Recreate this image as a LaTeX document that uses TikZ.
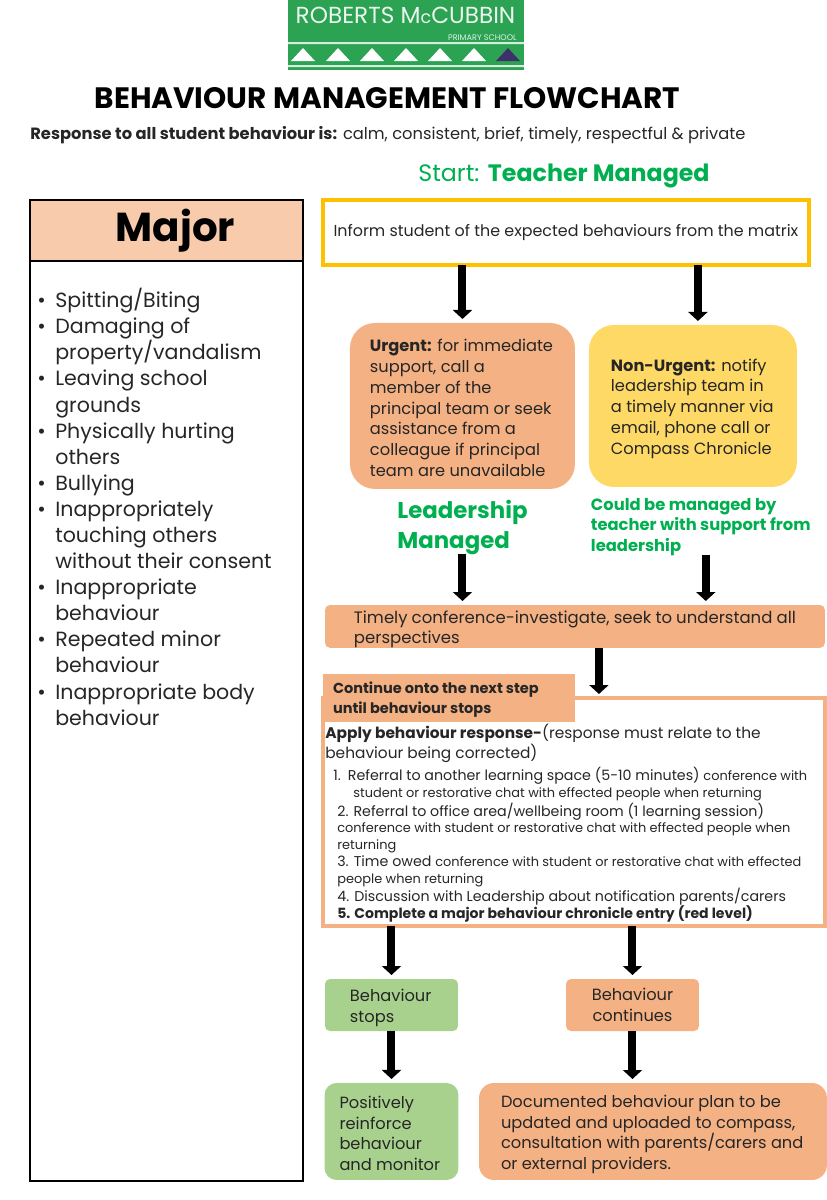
\documentclass[tikz,border=0pt]{standalone}
\usepackage{fontspec}
\setmainfont{Poppins}
\usetikzlibrary{arrows.meta,positioning}
\definecolor{rmGreen}{HTML}{2BA353}
\definecolor{rmText}{HTML}{00B050}
\definecolor{rmPeach}{HTML}{F7CBAC}
\definecolor{rmOrange}{HTML}{F4B183}
\definecolor{rmGold}{HTML}{FFC000}
\definecolor{rmYellow}{HTML}{FFD966}
\definecolor{rmLeaf}{HTML}{A9D18E}
\definecolor{rmInk}{HTML}{262626}
\definecolor{rmPurple}{HTML}{3F2F6B}
\newcommand{\fsz}[2]{\fontsize{#1}{#2}\selectfont}
\newcommand{\smalltxt}{\fsz{7.35}{9.53}}
\newcommand{\itemrow}{\makebox[0.36cm][l]{\textbullet}}
\tikzset{
  panel/.style={draw=black, line width=0.03cm, outer sep=0pt, inner sep=0pt},
  softbox/.style={rounded corners=0.1cm, outer sep=0pt, inner sep=0pt, text=rmInk, align=flush left, font=\fsz{9.25}{11.8}},
  bigarrow/.style={-{Triangle[width=0.38cm, length=0.18cm]}, line width=0.16cm, black, shorten >=0.08cm},
  greenlabel/.style={text=rmText, align=flush left, inner sep=0pt, outer sep=0pt},
}
\begin{document}
\begin{tikzpicture}[x=0.02cm, y=-0.02cm, text=rmInk]
  \useasboundingbox (0,0) rectangle (827,1200);
  % logo
  \node[fill=rmGreen, minimum width=4.72cm, minimum height=1.4cm, anchor=north west, inner sep=0pt] (logo) at (288,0) {};
  \fill[white!80!rmGreen] (288,42) rectangle (524,44) (288,65) rectangle (524,67);
  \foreach \tx in {303,338,372,406,440,474} {
    \fill[white] (\tx-12,61) -- (\tx,48) -- (\tx+12,61) -- cycle;
  }
  \fill[rmPurple] (496,61) -- (508,48) -- (520,61) -- cycle;
  \node[anchor=base, text=white!90!rmGreen, inner sep=0pt] (logoname) at (405.5,24) {\fsz{13.2}{15}ROBERTS M{\fsz{10}{15}c}CUBBIN};
  \node[anchor=base east, text=white!85!rmGreen, inner sep=0pt] (logoschool) at (517,40) {\fsz{4.6}{5}PRIMARY SCHOOL};

  \node[anchor=base, text=black, inner sep=0pt] (title) at (387.5,108) {\fsz{16.8}{18}\bfseries BEHAVIOUR MANAGEMENT FLOWCHART};
  \node[anchor=base west, inner sep=0pt] (response) at (30,139) {\fsz{9.28}{10}{\bfseries Response to all student behaviour is:} calm, consistent, brief, timely, respectful \& private};
  \node[anchor=base, inner sep=0pt, text=rmText] (start) at (564,181) {\fsz{13.5}{16}Start: \bfseries Teacher Managed};

  % left column
  \node[panel, fill=rmPeach, minimum width=5.46cm, minimum height=1.22cm, anchor=north west, text=black] (major) at (30,200) {\fsz{23}{26}\bfseries\hspace*{0.36cm}Major};
  \node[panel, minimum width=5.46cm, minimum height=18.4cm, below=0pt of major] (majorlist) {};
  \node[anchor=north west, inner sep=0pt, align=left, font=\fsz{11.7}{14.85}] (behaviours) at (37,288) {%
    \itemrow Spitting/Biting\\
    \itemrow Damaging of\\
    \hspace*{0.36cm}property/vandalism\\
    \itemrow Leaving school\\
    \hspace*{0.36cm}grounds\\
    \itemrow Physically hurting\\
    \hspace*{0.36cm}others\\
    \itemrow Bullying\\
    \itemrow Inappropriately\\
    \hspace*{0.36cm}touching others\\
    \hspace*{0.36cm}without their consent\\
    \itemrow Inappropriate\\
    \hspace*{0.36cm}behaviour\\
    \itemrow Repeated minor\\
    \hspace*{0.36cm}behaviour\\
    \itemrow Inappropriate body\\
    \hspace*{0.36cm}behaviour};

  % right column
  \node[draw=rmGold, line width=0.08cm, outer sep=0pt, inner sep=0pt, minimum width=9.72cm, minimum height=1.3cm, anchor=north west] (inform) at (323,200)
    {\raisebox{-0.1cm}{\fsz{9.05}{10}Inform student of the expected behaviours from the matrix}};
  \node[softbox, text height=0.33cm, rounded corners=0.5cm, fill=rmOrange, minimum width=4.5cm, minimum height=3.32cm, text width=3.7cm, inner xsep=0.4cm, below right=1.16cm and 0.54cm of inform.south west] (urgent)
    {{\bfseries Urgent:} for immediate\\support, call a\\member of the\\principal team or seek\\assistance from a\\colleague if principal\\team are unavailable};
  \node[softbox, text height=0.35cm, rounded corners=0.5cm, fill=rmYellow, minimum width=4.16cm, minimum height=3.24cm, text width=3.28cm, inner xsep=0.44cm, right=0.28cm of urgent] (nonurgent)
    {{\bfseries Non-Urgent:} notify\\leadership team in\\a timely manner via\\email, phone call or\\Compass Chronicle};
  \node[greenlabel, font=\fsz{13}{17}\bfseries, below=0.22cm of urgent] (leadership) {Leadership\\Managed};
  \node[greenlabel, font=\fsz{9.3}{11.7}\bfseries, below right=0.22cm and 0.04cm of nonurgent.south west] (support) {Could be managed by\\teacher with support from\\leadership};
  \node[softbox, text height=0.36cm, font=\fsz{9.4}{11.7}, fill=rmOrange, minimum width=10cm, minimum height=0.84cm, anchor=north west, text width=8.84cm, inner xsep=0.58cm] (timely) at (325,605)
    {Timely conference-investigate, seek to understand all\\perspectives};
  \node[draw=rmOrange, line width=0.07cm, fill=white, outer sep=0pt, inner sep=0pt, minimum width=10.04cm, minimum height=4.56cm, anchor=north west] (apply) at (323,698) {};
  \node[fill=rmOrange, text height=0.31cm, outer sep=0pt, inner sep=0pt, minimum width=5.04cm, minimum height=0.96cm, anchor=north west, text=rmInk, align=flush left, text width=4.64cm, inner xsep=0.2cm, font=\fsz{8.26}{11.4}\bfseries] (continue) at (323,674)
    {Continue onto the next step\\until behaviour stops};
  \node[anchor=north west, inner sep=0pt, align=left, font=\fsz{8.1}{9.53}] (applytext) at (325,724) {%
    {\fsz{8.75}{11.4}{\bfseries Apply behaviour response-}(response must relate to the}\\
    {\fsz{8.75}{11.4}behaviour being corrected)}\\[1.5pt]
    \hspace*{0.16cm}1.\hspace*{0.14cm}Referral to another learning space (5-10 minutes) {\smalltxt conference with}\\
    \hspace*{0.56cm}{\smalltxt student or restorative chat with effected people when returning}\\
    \hspace*{0.24cm}2. Referral to office area/wellbeing room (1 learning session)\\
    \hspace*{0.24cm}{\smalltxt conference with student or restorative chat with effected people when}\\
    \hspace*{0.24cm}{\smalltxt returning}\\
    \hspace*{0.24cm}3. Time owed {\smalltxt conference with student or restorative chat with effected}\\
    \hspace*{0.24cm}{\smalltxt people when returning}\\
    \hspace*{0.24cm}4. Discussion with Leadership about notification parents/carers\\
    \hspace*{0.24cm}{\fsz{8}{9.53}\bfseries 5. Complete a major behaviour chronicle entry (red level)}};
  \node[softbox, text height=0.36cm, fill=rmLeaf, minimum width=2.66cm, minimum height=1.04cm, anchor=north west, text width=1.66cm, inner xsep=0.5cm] (stops) at (325,979)
    {Behaviour\\stops};
  \node[softbox, align=center, fill=rmOrange, minimum width=2.66cm, minimum height=1.04cm, anchor=north west] (continues) at (566,979)
    {Behaviour\\continues};
  \node[softbox, text height=0.32cm, rounded corners=0.24cm, fill=rmLeaf, minimum width=2.68cm, minimum height=1.94cm, below=1.04cm of stops, text width=2.08cm, inner xsep=0.3cm] (positive)
    {Positively\\reinforce\\behaviour\\and monitor};
  \node[softbox, text height=0.36cm, rounded corners=0.3cm, fill=rmOrange, minimum width=6.96cm, minimum height=1.94cm, anchor=north west, text width=6.08cm, inner xsep=0.44cm] (documented) at (479,1083)
    {Documented behaviour plan to be\\updated and uploaded to compass,\\consultation with parents/carers and\\or external providers.};

  \draw[bigarrow] (inform.south -| urgent.north) -- (urgent.north);
  \draw[bigarrow] ([xshift=0.1cm]inform.south -| nonurgent.north) -- ([xshift=0.1cm]nonurgent.north);
  \draw[bigarrow] (leadership.south) -- (leadership.south |- timely.north);
  \draw[bigarrow] ([xshift=0.1cm]support.south) -- ([xshift=0.1cm]support.south |- timely.north);
  \draw[bigarrow] ([xshift=0.48cm]timely.south) -- ([xshift=0.48cm]timely.south |- apply.north);
  \draw[bigarrow] (stops.north |- apply.south) -- (stops.north);
  \draw[bigarrow] (continues.north |- apply.south) -- (continues.north);
  \draw[bigarrow] (stops.south) -- (positive.north);
  \draw[bigarrow] (continues.south) -- (continues.south |- documented.north);
\end{tikzpicture}
\end{document}
